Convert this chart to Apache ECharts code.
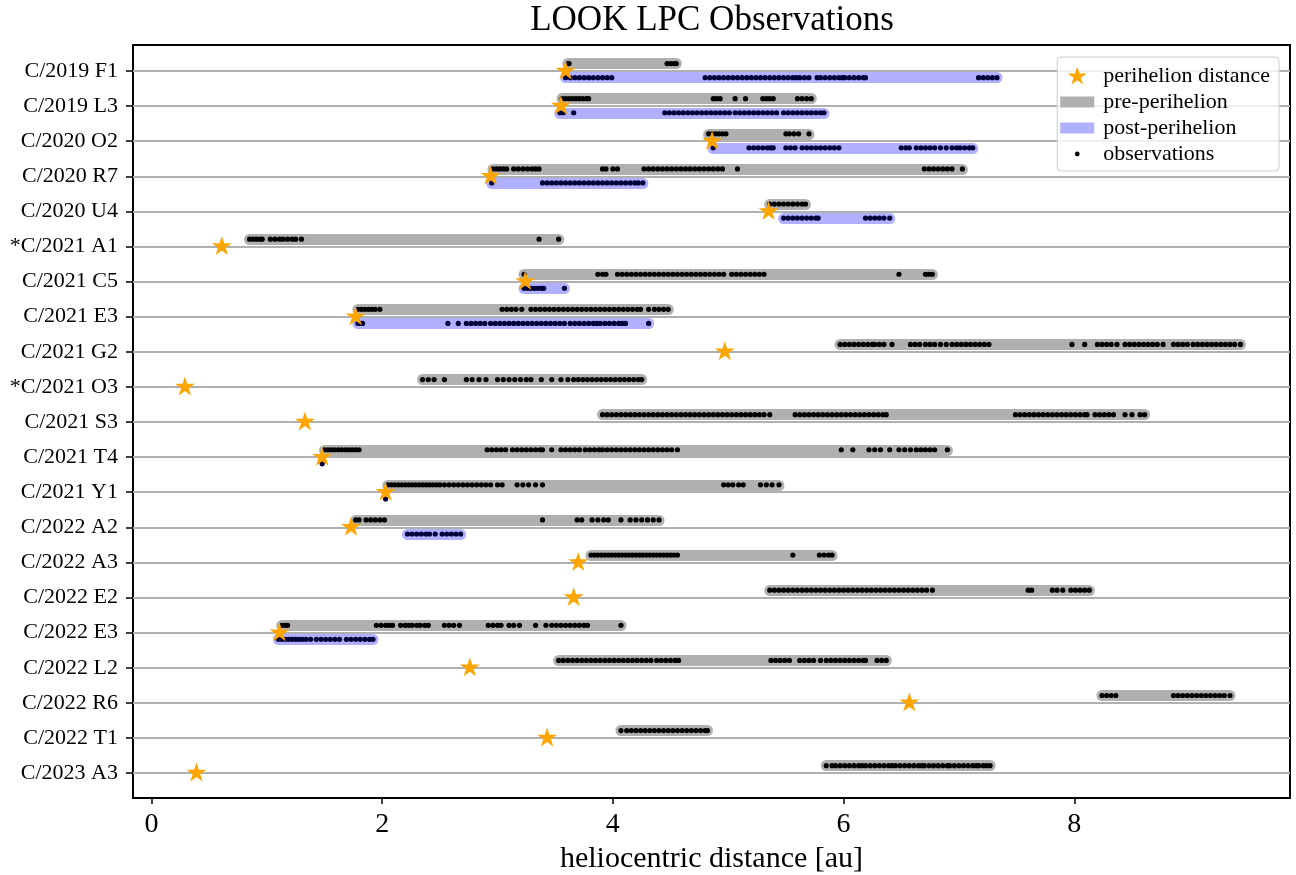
<!DOCTYPE html>
<html>
<head>
<meta charset="utf-8">
<script src="https://cdn.jsdelivr.net/npm/echarts@6/dist/echarts.min.js"></script>
<style>
html,body{margin:0;padding:0;background:#fff;}
#chart{width:1296px;height:875px;}
</style>
</head>
<body>
<div id="chart"></div>
<script>
const names = ['C/2019 F1','C/2019 L3','C/2020 O2','C/2020 R7','C/2020 U4','*C/2021 A1','C/2021 C5','C/2021 E3','C/2021 G2','*C/2021 O3','C/2021 S3','C/2021 T4','C/2021 Y1','C/2022 A2','C/2022 A3','C/2022 E2','C/2022 E3','C/2022 L2','C/2022 R6','C/2022 T1','C/2023 A3'];

const perihelion = [3.59, 3.55, 4.86, 2.94, 5.35, 0.61, 3.24, 1.77, 4.97, 0.29, 1.33, 1.48, 2.03, 1.73, 3.70, 3.66, 1.11, 2.76, 6.57, 3.43, 0.39];

const preObs = [
  [3.61, 3.62, 4.47, 4.50, 4.53, 4.55],
  [3.56, 3.59, 3.62, 3.65, 3.68, 3.71, 3.74, 3.77, 3.79, 4.87, 4.90, 4.93, 5.06, 5.15, 5.30, 5.33, 5.36, 5.39, 5.60, 5.64, 5.68, 5.72],
  [4.83, 4.86, 4.89, 4.92, 4.95, 4.98, 5.50, 5.53, 5.57, 5.61, 5.70],
  [2.96, 2.99, 3.02, 3.05, 3.08, 3.14, 3.18, 3.22, 3.26, 3.30, 3.33, 3.36, 3.91, 3.94, 4.00, 4.04, 4.27, 4.31, 4.35, 4.39, 4.43, 4.47, 4.51, 4.55, 4.59, 4.63, 4.67, 4.71, 4.75, 4.79, 4.83, 4.87, 4.91, 4.95, 5.08, 6.70, 6.74, 6.78, 6.82, 6.86, 6.90, 6.94, 7.03],
  [5.36, 5.40, 5.44, 5.48, 5.52, 5.56, 5.60, 5.64, 5.67],
  [0.85, 0.88, 0.91, 0.94, 0.96, 1.03, 1.07, 1.11, 1.14, 1.18, 1.22, 1.25, 1.30, 3.36, 3.53],
  [3.23, 3.87, 3.91, 3.94, 4.04, 4.08, 4.12, 4.16, 4.20, 4.24, 4.28, 4.32, 4.36, 4.40, 4.44, 4.48, 4.52, 4.56, 4.60, 4.64, 4.68, 4.72, 4.76, 4.80, 4.84, 4.88, 4.92, 4.96, 5.03, 5.07, 5.11, 5.15, 5.19, 5.23, 5.27, 5.31, 6.48, 6.71, 6.74, 6.77],
  [1.79, 1.82, 1.85, 1.88, 1.91, 1.94, 1.98, 3.04, 3.08, 3.12, 3.16, 3.21, 3.29, 3.33, 3.37, 3.41, 3.45, 3.49, 3.53, 3.57, 3.61, 3.65, 3.69, 3.73, 3.77, 3.81, 3.85, 3.89, 3.93, 3.97, 4.01, 4.05, 4.09, 4.13, 4.17, 4.21, 4.24, 4.31, 4.36, 4.40, 4.44, 4.48],
  [5.97, 6.01, 6.05, 6.09, 6.13, 6.17, 6.21, 6.25, 6.27, 6.31, 6.35, 6.42, 6.58, 6.62, 6.66, 6.71, 6.75, 6.79, 6.84, 6.89, 6.94, 6.98, 7.02, 7.06, 7.10, 7.14, 7.18, 7.22, 7.26, 7.98, 8.09, 8.20, 8.24, 8.28, 8.32, 8.37, 8.44, 8.48, 8.52, 8.56, 8.60, 8.64, 8.68, 8.72, 8.77, 8.86, 8.90, 8.94, 8.98, 9.03, 9.07, 9.11, 9.15, 9.19, 9.23, 9.27, 9.31, 9.35, 9.39, 9.44],
  [2.35, 2.40, 2.45, 2.54, 2.73, 2.78, 2.84, 2.90, 3.00, 3.05, 3.10, 3.15, 3.20, 3.25, 3.29, 3.38, 3.47, 3.55, 3.61, 3.66, 3.70, 3.74, 3.78, 3.82, 3.86, 3.90, 3.94, 3.98, 4.02, 4.06, 4.10, 4.14, 4.18, 4.22, 4.25],
  [3.91, 3.95, 3.99, 4.03, 4.07, 4.11, 4.15, 4.19, 4.23, 4.27, 4.31, 4.35, 4.39, 4.43, 4.47, 4.51, 4.55, 4.59, 4.63, 4.67, 4.71, 4.75, 4.79, 4.83, 4.87, 4.91, 4.95, 4.99, 5.03, 5.07, 5.11, 5.15, 5.19, 5.23, 5.27, 5.31, 5.36, 5.58, 5.62, 5.66, 5.70, 5.74, 5.78, 5.82, 5.86, 5.90, 5.94, 5.98, 6.02, 6.06, 6.10, 6.14, 6.18, 6.22, 6.26, 6.30, 6.34, 6.37, 7.49, 7.53, 7.57, 7.61, 7.65, 7.69, 7.73, 7.77, 7.81, 7.85, 7.89, 7.93, 7.97, 8.01, 8.05, 8.09, 8.11, 8.18, 8.22, 8.26, 8.30, 8.34, 8.44, 8.50, 8.57, 8.61],
  [1.50, 1.53, 1.56, 1.59, 1.62, 1.65, 1.68, 1.71, 1.74, 1.77, 1.80, 2.91, 2.95, 2.99, 3.03, 3.07, 3.13, 3.17, 3.21, 3.25, 3.29, 3.33, 3.37, 3.39, 3.47, 3.55, 3.59, 3.63, 3.67, 3.71, 3.76, 3.80, 3.84, 3.88, 3.91, 3.95, 3.99, 4.03, 4.07, 4.11, 4.15, 4.19, 4.23, 4.27, 4.31, 4.35, 4.39, 4.43, 4.47, 4.51, 4.56, 5.98, 6.08, 6.22, 6.27, 6.32, 6.40, 6.48, 6.53, 6.58, 6.63, 6.67, 6.71, 6.75, 6.79, 6.90],
  [2.05, 2.08, 2.11, 2.14, 2.17, 2.20, 2.23, 2.26, 2.29, 2.32, 2.35, 2.38, 2.41, 2.44, 2.47, 2.50, 2.54, 2.58, 2.62, 2.66, 2.70, 2.74, 2.78, 2.82, 2.86, 2.90, 2.94, 3.00, 3.04, 3.17, 3.22, 3.27, 3.33, 3.39, 4.96, 5.00, 5.04, 5.09, 5.13, 5.28, 5.33, 5.38, 5.44],
  [1.77, 1.80, 1.86, 1.90, 1.94, 1.98, 2.02, 3.39, 3.69, 3.73, 3.82, 3.87, 3.92, 3.96, 4.07, 4.15, 4.20, 4.25, 4.30, 4.35, 4.40],
  [3.81, 3.84, 3.87, 3.90, 3.93, 3.96, 3.99, 4.02, 4.05, 4.08, 4.11, 4.14, 4.17, 4.20, 4.23, 4.26, 4.29, 4.32, 4.35, 4.38, 4.41, 4.44, 4.47, 4.50, 4.53, 4.56, 5.56, 5.79, 5.83, 5.87, 5.90],
  [5.36, 5.40, 5.44, 5.48, 5.52, 5.56, 5.60, 5.64, 5.68, 5.72, 5.76, 5.80, 5.84, 5.88, 5.92, 5.96, 6.00, 6.04, 6.08, 6.12, 6.16, 6.20, 6.24, 6.28, 6.32, 6.36, 6.40, 6.44, 6.48, 6.52, 6.56, 6.60, 6.64, 6.68, 6.72, 6.77, 7.60, 7.63, 7.81, 7.85, 7.90, 7.97, 8.01, 8.05, 8.09, 8.13],
  [1.13, 1.16, 1.18, 1.95, 1.99, 2.03, 2.06, 2.09, 2.16, 2.20, 2.23, 2.26, 2.30, 2.33, 2.37, 2.40, 2.54, 2.58, 2.62, 2.67, 2.92, 2.96, 3.00, 3.03, 3.10, 3.14, 3.19, 3.33, 3.42, 3.47, 3.51, 3.55, 3.59, 3.63, 3.67, 3.71, 3.75, 3.78, 4.07],
  [3.53, 3.57, 3.61, 3.65, 3.69, 3.73, 3.77, 3.81, 3.85, 3.89, 3.93, 3.97, 4.01, 4.05, 4.09, 4.13, 4.17, 4.21, 4.25, 4.29, 4.33, 4.38, 4.42, 4.46, 4.50, 4.54, 4.57, 5.37, 5.41, 5.45, 5.49, 5.53, 5.62, 5.66, 5.70, 5.74, 5.80, 5.85, 5.89, 5.93, 5.97, 6.01, 6.05, 6.09, 6.13, 6.17, 6.19, 6.29, 6.33, 6.37],
  [8.24, 8.28, 8.32, 8.36, 8.86, 8.90, 8.94, 8.98, 9.02, 9.06, 9.10, 9.14, 9.18, 9.22, 9.26, 9.30, 9.35],
  [4.07, 4.12, 4.16, 4.20, 4.24, 4.28, 4.32, 4.36, 4.40, 4.44, 4.48, 4.52, 4.56, 4.60, 4.64, 4.68, 4.72, 4.76, 4.80, 4.82],
  [5.85, 5.90, 5.93, 5.97, 6.01, 6.05, 6.09, 6.13, 6.16, 6.19, 6.23, 6.27, 6.31, 6.35, 6.39, 6.42, 6.45, 6.49, 6.53, 6.57, 6.61, 6.65, 6.68, 6.70, 6.74, 6.78, 6.82, 6.86, 6.90, 6.92, 6.96, 7.00, 7.04, 7.08, 7.12, 7.15, 7.17, 7.21, 7.24, 7.27]
];

const postObs = [
  [3.59, 3.63, 3.67, 3.71, 3.75, 3.79, 3.83, 3.87, 3.91, 3.95, 3.99, 4.80, 4.84, 4.88, 4.92, 4.96, 5.00, 5.04, 5.08, 5.12, 5.16, 5.20, 5.24, 5.28, 5.32, 5.36, 5.40, 5.44, 5.48, 5.52, 5.56, 5.59, 5.62, 5.66, 5.70, 5.77, 5.80, 5.84, 5.88, 5.92, 5.96, 5.99, 6.01, 6.05, 6.09, 6.13, 6.17, 6.19, 7.17, 7.21, 7.25, 7.29, 7.33],
  [3.54, 3.57, 3.66, 4.45, 4.49, 4.53, 4.57, 4.61, 4.65, 4.69, 4.73, 4.77, 4.81, 4.85, 4.89, 4.93, 4.97, 5.01, 5.06, 5.10, 5.14, 5.18, 5.22, 5.26, 5.30, 5.34, 5.38, 5.42, 5.48, 5.52, 5.56, 5.60, 5.64, 5.68, 5.72, 5.76, 5.80, 5.83],
  [4.87, 5.18, 5.22, 5.26, 5.30, 5.34, 5.37, 5.39, 5.50, 5.54, 5.58, 5.64, 5.68, 5.72, 5.76, 5.80, 5.84, 5.88, 5.92, 5.96, 6.50, 6.54, 6.57, 6.63, 6.67, 6.71, 6.75, 6.79, 6.84, 6.89, 6.94, 6.98, 7.01, 7.05, 7.09, 7.12],
  [2.95, 3.39, 3.43, 3.47, 3.51, 3.55, 3.59, 3.63, 3.67, 3.71, 3.75, 3.79, 3.83, 3.87, 3.91, 3.95, 3.99, 4.03, 4.07, 4.11, 4.15, 4.19, 4.22, 4.26],
  [5.48, 5.52, 5.56, 5.60, 5.64, 5.68, 5.72, 5.76, 5.78, 6.19, 6.23, 6.27, 6.31, 6.35, 6.40],
  [],
  [3.23, 3.26, 3.29, 3.32, 3.35, 3.38, 3.40, 3.58],
  [1.79, 1.81, 1.83, 2.57, 2.66, 2.73, 2.77, 2.81, 2.85, 2.89, 2.94, 2.98, 3.02, 3.06, 3.10, 3.14, 3.18, 3.22, 3.26, 3.30, 3.34, 3.38, 3.42, 3.46, 3.50, 3.54, 3.58, 3.63, 3.67, 3.71, 3.75, 3.79, 3.83, 3.86, 3.89, 3.93, 3.97, 4.01, 4.05, 4.08, 4.11, 4.31],
  [],
  [],
  [],
  [1.48],
  [2.03],
  [2.22, 2.26, 2.30, 2.34, 2.38, 2.41, 2.46, 2.52, 2.56, 2.60, 2.64, 2.68],
  [],
  [],
  [1.10, 1.13, 1.16, 1.19, 1.22, 1.25, 1.28, 1.31, 1.34, 1.38, 1.43, 1.47, 1.51, 1.55, 1.59, 1.63, 1.69, 1.73, 1.77, 1.81, 1.85, 1.89, 1.92],
  [],
  [],
  [],
  []
];

const xTicks = [0, 2, 4, 6, 8];

const FONT = "'Liberation Serif', 'Times New Roman', serif";
const PRE_OFF = -0.21, POST_OFF = 0.19;
const rowIdx = names.map((n, i) => i);

const preBars = [], postBars = [], dots = [], stars = [];
names.forEach((n, i) => {
  const p = preObs[i], q = postObs[i];
  if (p.length > 1 && Math.max(...p) > Math.min(...p)) {
    preBars.push({coords: [[Math.min(...p), i + PRE_OFF], [Math.max(...p), i + PRE_OFF]]});
  }
  if (q.length > 1 && Math.max(...q) > Math.min(...q)) {
    postBars.push({coords: [[Math.min(...q), i + POST_OFF], [Math.max(...q), i + POST_OFF]]});
  }
  p.forEach(v => dots.push({value: [v, i + PRE_OFF]}));
  q.forEach(v => dots.push({value: [v, i + POST_OFF], itemStyle: {color: '#00003a', opacity: 1}}));
  stars.push([perihelion[i], i]);
});

const STAR = 'path://M0,-100L22.45,-30.9L95.11,-30.9L36.33,11.8L58.78,80.9L0,38.2L-58.78,80.9L-36.33,11.8L-95.11,-30.9L-22.45,-30.9Z';
const PAD = 'M-17,-10L-17,-10M17,10L17,10';
const LEG_STAR = 'path://' + PAD + 'M0,-9.5L2.245,-2.59L9.511,-2.59L3.633,1.68L5.878,8.59L0,4.32L-5.878,8.59L-3.633,1.68L-9.511,-2.59L-2.245,-2.59Z';
const LEG_RECT = 'path://' + PAD + 'M-17,-5.5L17,-5.5L17,5.5L-17,5.5Z';
const LEG_DOT = 'path://' + PAD + 'M-2.4,0A2.4,2.4,0,1,1,2.4,0A2.4,2.4,0,1,1,-2.4,0Z';

const chart = echarts.init(document.getElementById('chart'), null, {renderer: 'canvas'});
chart.setOption({
  animation: false,
  backgroundColor: '#ffffff',
  textStyle: {fontFamily: FONT},
  title: {
    text: 'LOOK LPC Observations',
    left: 712, top: 3, padding: 0,
    textAlign: 'center',
    textStyle: {fontFamily: FONT, fontSize: 35, fontWeight: 'normal', color: '#000'}
  },
  legend: {
    orient: 'vertical',
    right: 17, top: 57,
    padding: [8, 9, 6, 3],
    itemWidth: 34, itemHeight: 20, itemGap: 4,
    borderColor: '#cccccc', borderWidth: 1, borderRadius: 4,
    backgroundColor: 'rgba(255,255,255,0.8)',
    selectedMode: false,
    itemStyle: {borderWidth: 0},
    textStyle: {fontFamily: FONT, fontSize: 22, color: '#000', padding: [0, 0, 0, 4]},
    data: [
      {name: 'perihelion distance', icon: LEG_STAR, itemStyle: {color: '#ffa500', borderWidth: 0, opacity: 1}},
      {name: 'pre-perihelion', icon: LEG_RECT, itemStyle: {color: '#b0b0b0', borderWidth: 0, opacity: 1}},
      {name: 'post-perihelion', icon: LEG_RECT, itemStyle: {color: '#b0b0ff', borderWidth: 0, opacity: 1}},
      {name: 'observations', icon: LEG_DOT, itemStyle: {color: '#000000', borderWidth: 0, opacity: 1}}
    ]
  },
  grid: {left: 133, right: 6, top: 45, bottom: 77, show: true, borderColor: '#000', borderWidth: 2, backgroundColor: 'transparent', outerBoundsMode: 'none', containLabel: false},
  xAxis: {
    type: 'value', min: -0.16, max: 9.87, position: 'bottom',
    splitLine: {show: false},
    axisLine: {show: false, onZero: false},
    axisTick: {show: true, customValues: xTicks, length: 6, lineStyle: {color: '#000', width: 1.5}},
    axisLabel: {customValues: xTicks, fontSize: 28, margin: 13, color: '#000', fontFamily: FONT},
    name: 'heliocentric distance [au]', nameLocation: 'middle', nameGap: 46,
    nameTextStyle: {fontSize: 30, color: '#000', fontFamily: FONT}
  },
  yAxis: {
    type: 'value', inverse: true, min: -0.74, max: 20.71, position: 'left',
    splitLine: {show: false},
    axisLine: {show: false, onZero: false},
    axisTick: {show: true, customValues: rowIdx, length: 7, lineStyle: {color: '#000', width: 1.5}},
    axisLabel: {customValues: rowIdx, formatter: v => names[Math.round(v)], fontSize: 22, margin: 15, color: '#000', fontFamily: FONT}
  },
  series: [
    {
      name: 'pre-perihelion', type: 'lines', coordinateSystem: 'cartesian2d', z: 2, silent: true,
      data: preBars,
      lineStyle: {color: '#b0b0b0', width: 11, opacity: 1, cap: 'round'}
    },
    {
      name: 'post-perihelion', type: 'lines', coordinateSystem: 'cartesian2d', z: 2, silent: true,
      data: postBars,
      lineStyle: {color: '#b0b0ff', width: 11, opacity: 1, cap: 'round'}
    },
    {
      name: 'observations', type: 'scatter', z: 3, silent: true,
      symbol: 'circle', symbolSize: 5.2,
      itemStyle: {color: '#000000', opacity: 1},
      data: dots
    },
    {
      name: 'perihelion distance', type: 'scatter', z: 4, silent: true,
      symbol: STAR, symbolSize: [20, 19], symbolOffset: [0, -1],
      itemStyle: {color: '#ffa500', opacity: 1},
      data: stars,
      markLine: {
        silent: true, z: 1, symbol: ['none', 'none'],
        label: {show: false},
        lineStyle: {color: '#b0b0b0', width: 2, type: 'solid', opacity: 1},
        emphasis: {disabled: true},
        data: rowIdx.map(i => ({yAxis: i}))
      }
    }
  ]
});
</script>
</body>
</html>
